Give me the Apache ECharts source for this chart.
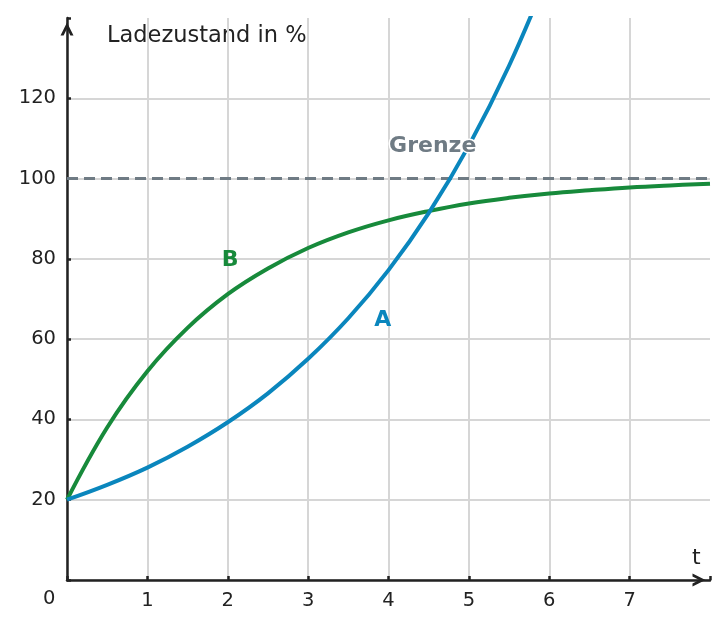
<!DOCTYPE html>
<html>
<head>
<meta charset="utf-8">
<title>Ladezustand</title>
<script src="https://cdn.jsdelivr.net/npm/echarts@6/dist/echarts.min.js"></script>
<style>
  html, body { margin: 0; padding: 0; background: #fff; }
  #chart { width: 728px; height: 629px; }
</style>
</head>
<body>
<div id="chart"></div>
<script>
// ==================== Daten ====================
const tValues = [0, 0.5, 1, 1.5, 2, 2.5, 3, 3.5, 4, 4.5, 5, 5.5, 6, 6.5, 7, 7.5, 8];
// Kurve A (wächst immer schneller, läuft oben aus dem Bild)
const seriesA = [20, 23.7, 28, 33.2, 39.3, 46.5, 55.1, 65.2, 77.2, 91.4, 108.2, 128.1, 151.6];
// Kurve B (nähert sich der Grenze)
const seriesB = [20, 38, 52, 62.8, 71.2, 77.6, 82.7, 86.6, 89.6, 91.9, 93.8, 95.2, 96.3, 97.1, 97.8, 98.3, 98.7];
const limitValue = 100;
const yTicks = [0, 20, 40, 60, 80, 100, 120, 140];
const xTicks = [0, 1, 2, 3, 4, 5, 6, 7, 8];

const COLOR_A = '#0a86bd';
const COLOR_B = '#178a3b';
const COLOR_LIMIT = '#6f7b84';
const COLOR_AXIS = '#222';
const FONT = 'DejaVu Sans';

// offene Pfeilspitze (zeigt nach oben, wird für die x-Achse gedreht)
const ARROW = 'path://M0,10 L5,0 L10,10 L7.6,10 L5,4.8 L2.4,10 Z';

const pairs = (vals) => vals.map((v, i) => [tValues[i], v]);

// Beschriftung an einer Datenkoordinate (unsichtbares Symbol, nur Text)
const tag = (coord, text, color, extra) => ({
  symbol: 'circle',
  symbolSize: 1,
  itemStyle: { color: 'rgba(0,0,0,0)' },
  data: [{ coord: coord, value: text }],
  label: Object.assign({
    show: true, position: 'inside', formatter: text,
    color: color, fontFamily: FONT, fontWeight: 'bold', fontSize: 22
  }, extra || {}),
  z: 10
});

const chart = echarts.init(document.getElementById('chart'), null, { renderer: 'canvas' });

const axisCommon = {
  type: 'value',
  axisLine: {
    show: true,
    onZero: false,
    symbol: ['none', ARROW],
    symbolSize: [14, 13],
    symbolOffset: [0, -11],
    lineStyle: { color: COLOR_AXIS, width: 2.5 }
  },
  axisTick: { show: true, inside: true, length: 4, lineStyle: { color: COLOR_AXIS, width: 2.5 } },
  splitLine: { show: true, showMaxLine: false, lineStyle: { color: '#d6d6d6', width: 2 } },
  axisLabel: { color: COLOR_AXIS, fontFamily: FONT, fontSize: 19.5 }
};

const option = {
  animation: false,
  backgroundColor: '#fff',
  grid: { left: 67, right: 18, top: 18, bottom: 49 },
  xAxis: Object.assign({}, axisCommon, {
    min: xTicks[0],
    max: xTicks[xTicks.length - 1],
    interval: 1,
    axisLabel: Object.assign({}, axisCommon.axisLabel, {
      margin: 11,
      formatter: (v) => (v === 0 || v === 8 ? '' : String(v))
    })
  }),
  yAxis: Object.assign({}, axisCommon, {
    min: yTicks[0],
    max: yTicks[yTicks.length - 1],
    interval: 20,
    axisLabel: Object.assign({}, axisCommon.axisLabel, {
      margin: 11,
      formatter: (v) => (v === 0 || v === 140 ? '' : String(v))
    })
  }),
  graphic: [
    {
      type: 'text', left: 107, top: 25,
      style: { text: 'Ladezustand in %', fill: COLOR_AXIS, font: '22.5px "DejaVu Sans"' }
    },
    {
      type: 'text', left: 692, top: 547,
      style: { text: 't', fill: COLOR_AXIS, font: '22px "DejaVu Sans"' }
    },
    {
      type: 'text', left: 43, top: 589,
      style: { text: '0', fill: COLOR_AXIS, font: '19.5px "DejaVu Sans"' }
    }
  ],
  series: [
    {
      name: 'Grenze',
      type: 'line',
      data: [[xTicks[0], limitValue], [xTicks[xTicks.length - 1], limitValue]],
      symbol: 'none',
      lineStyle: { color: COLOR_LIMIT, width: 3, type: [11, 6] },
      z: 2,
      markPoint: tag([4.55, 108], 'Grenze', COLOR_LIMIT, { textBorderColor: '#fff', textBorderWidth: 3 })
    },
    {
      name: 'B',
      type: 'line',
      data: pairs(seriesB),
      smooth: 0.4,
      symbol: 'none',
      lineStyle: { color: COLOR_B, width: 4 },
      z: 3,
      markPoint: tag([2.03, 79.6], 'B', COLOR_B)
    },
    {
      name: 'A',
      type: 'line',
      data: pairs(seriesA),
      smooth: 0.4,
      symbol: 'none',
      clip: true,
      lineStyle: { color: COLOR_A, width: 4 },
      z: 4,
      markPoint: tag([3.93, 64.7], 'A', COLOR_A)
    }
  ]
};

chart.setOption(option);
</script>
</body>
</html>
